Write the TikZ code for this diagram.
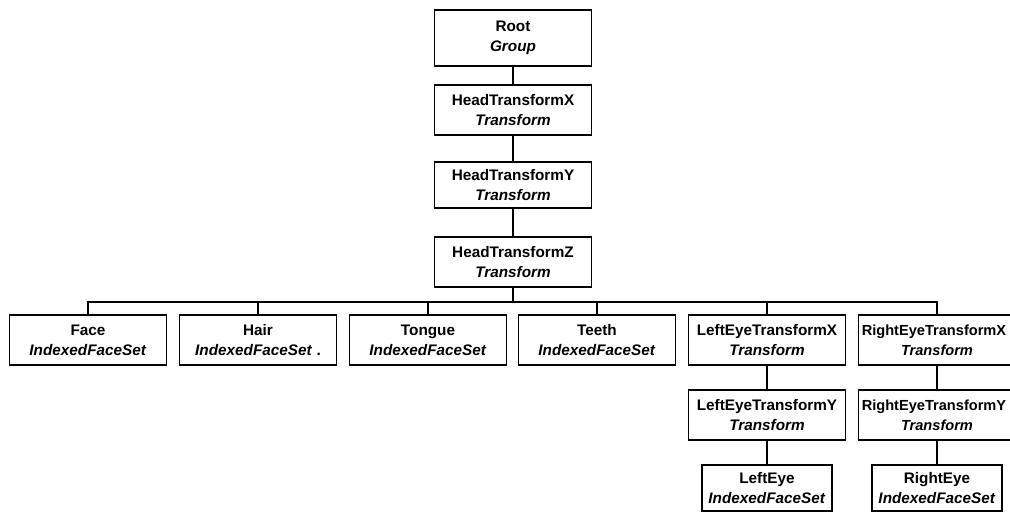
\documentclass[tikz,border=0pt]{standalone}
\usepackage{fontspec}
\newfontfamily\arialfont{Liberation Sans}
\begin{document}
\begin{tikzpicture}[x=1pt,y=-1pt,
  scenebox/.style={draw=black, line width=1.7pt, rectangle, fill=white,
    minimum width=157pt, minimum height=50pt, inner sep=0pt, align=center,
    font=\arialfont\bfseries\fontsize{15.3}{20}\selectfont},
  edgebox/.style={scenebox, font=\arialfont\bfseries\fontsize{14.6}{20}\selectfont},
  link/.style={draw=black, line width=1.7pt}]
\useasboundingbox (0,0) rectangle (1010,513);
\newcommand{\ntype}[1]{\textit{#1}}

% head chain
\node[scenebox, minimum height=56pt] (root) at (513,38) {Root\\\ntype{Group}};
\node[scenebox] (hx) at (513,110) {HeadTransformX\\\ntype{Transform}};
\node[scenebox, minimum height=46pt] (hy) at (513,185) {HeadTransformY\\\ntype{Transform}};
\node[scenebox] (hz) at (513,262) {HeadTransformZ\\\ntype{Transform}};

% children of HeadTransformZ
\node[scenebox] (face)   at (88,340)  {Face\\\ntype{IndexedFaceSet}};
\node[scenebox] (hair)   at (258,340) {Hair\\\ntype{IndexedFaceSet} .};
\node[scenebox] (tongue) at (428,340) {Tongue\\\ntype{IndexedFaceSet}};
\node[scenebox] (teeth)  at (597,340) {Teeth\\\ntype{IndexedFaceSet}};
\node[scenebox] (lex)    at (767,340) {LeftEyeTransformX\\\ntype{Transform}};
\node[edgebox, text width=146pt] (rex) at (937,340) {\hspace*{-6pt}RightEyeTransformX\\\ntype{Transform}};

% eye chains
\node[scenebox] (ley) at (767,415) {LeftEyeTransformY\\\ntype{Transform}};
\node[edgebox, text width=146pt] (rey) at (937,415) {\hspace*{-6pt}RightEyeTransformY\\\ntype{Transform}};
\node[scenebox, minimum width=130pt, minimum height=46pt] (le) at (767,488) {LeftEye\\\ntype{IndexedFaceSet}};
\node[scenebox, minimum width=130pt, minimum height=46pt] (re) at (937,488) {RightEye\\\ntype{IndexedFaceSet}};

% connectors
\draw[link] (root) -- (hx);
\draw[link] (hx) -- (hy);
\draw[link] (hy) -- (hz);
\coordinate (bus) at (513,302);
\draw[link] (hz.south) -- (bus);
\foreach \c in {face,hair,tongue,teeth,lex,rex}
  \draw[link] (bus) -| (\c.north);
\draw[link] (lex) -- (ley);
\draw[link] (ley) -- (le);
\draw[link] (rex) -- (rey);
\draw[link] (rey) -- (re);
\end{tikzpicture}
\end{document}
